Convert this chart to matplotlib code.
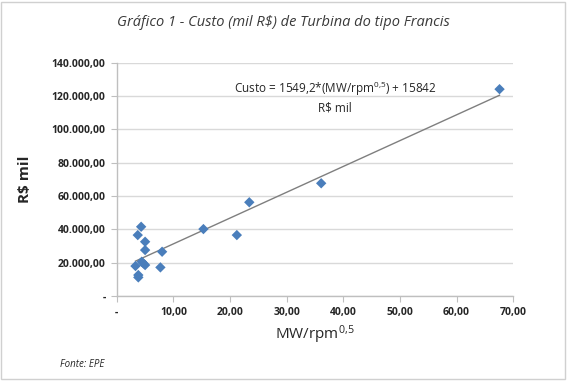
import numpy as np
import matplotlib.pyplot as plt
import matplotlib.ticker as ticker

# --- dados ---
mw_rpm = [4.3, 3.7, 5.0, 5.0, 8.0, 15.3, 21.2, 23.4, 3.3, 4.4, 4.7, 5.0,
          7.7, 3.8, 3.8, 36.1, 67.6]
custo = [41600, 36600, 32600, 27600, 26600, 40200, 36600, 56300, 18000,
         20600, 19600, 18600, 17200, 12600, 11200, 67700, 124200]
coef_a = 1549.2
coef_b = 15842

x_ticks = [0, 10, 20, 30, 40, 50, 60, 70]
y_ticks = [0, 20000, 40000, 60000, 80000, 100000, 120000, 140000]

COLOR_PTS = '#4A7EBB'
COLOR_GRID = '#D9D9D9'
COLOR_TEXT = '#262626'

plt.rcParams['font.family'] = ['Open Sans', 'DejaVu Sans']
plt.rcParams['mathtext.fontset'] = 'custom'
plt.rcParams['mathtext.rm'] = 'Open Sans'
plt.rcParams['mathtext.it'] = 'Open Sans:italic'
plt.rcParams['mathtext.bf'] = 'Open Sans:bold'

fig = plt.figure(figsize=(5.67, 3.81), dpi=100)
ax = fig.add_axes([0.206, 0.223, 0.699, 0.612])

xs = np.array([min(mw_rpm), max(mw_rpm)])
ax.plot(xs, coef_a * xs + coef_b, color='#7F7F7F', linewidth=1.0, zorder=2)
ax.scatter(mw_rpm, custo, marker='D', s=28, color=COLOR_PTS, edgecolors='none', zorder=3)

ax.set_xlim(0, 70)
ax.set_ylim(0, 140000)
ax.set_xticks(x_ticks)
ax.set_yticks(y_ticks)

def fmt_br(v, _):
    if v == 0:
        return '-'
    s = '{:,.2f}'.format(v)
    return s.replace(',', 'X').replace('.', ',').replace('X', '.')

ax.xaxis.set_major_formatter(ticker.FuncFormatter(fmt_br))
ax.yaxis.set_major_formatter(ticker.FuncFormatter(fmt_br))

ax.grid(True, axis='y', color=COLOR_GRID, linewidth=1.0)
ax.set_axisbelow(True)
for side in ['top', 'right']:
    ax.spines[side].set_visible(False)
for side in ['left', 'bottom']:
    ax.spines[side].set_color('#BFBFBF')
    ax.spines[side].set_linewidth(1.0)
ax.tick_params(axis='both', direction='out', length=4, color='#BFBFBF',
               labelsize=7.5, labelcolor=COLOR_TEXT, pad=4)
for lbl in ax.get_xticklabels() + ax.get_yticklabels():
    lbl.set_fontweight('bold')

ax.set_xlabel(r'MW/rpm$^{0{,}5}$', fontsize=11, color=COLOR_TEXT, labelpad=4)
ax.set_ylabel('R$ mil', fontsize=11, fontweight='bold', color=COLOR_TEXT, labelpad=14)

ax.text(38.6, 119500, 'Custo = 1549,2*(MW/rpm$^{0{,}5}$) + 15842\nR$ mil',
        ha='center', va='center', fontsize=8.5, color=COLOR_TEXT, linespacing=1.3)

fig.text(0.5, 0.942, 'Gráfico 1 - Custo (mil R$) de Turbina do tipo Francis',
         ha='center', va='center', fontsize=10.5, style='italic', color='#3A3A3A')
fig.text(0.106, 0.042, 'Fonte: EPE', ha='left', va='center', fontsize=7,
         style='italic', color=COLOR_TEXT)

# moldura leve em volta da figura
fig.patches.append(plt.Rectangle((0.002, 0.004), 0.994, 0.99, transform=fig.transFigure,
                                 fill=False, edgecolor='#D0D0D0', linewidth=1.0))

fig.savefig('out.png', dpi=100)
